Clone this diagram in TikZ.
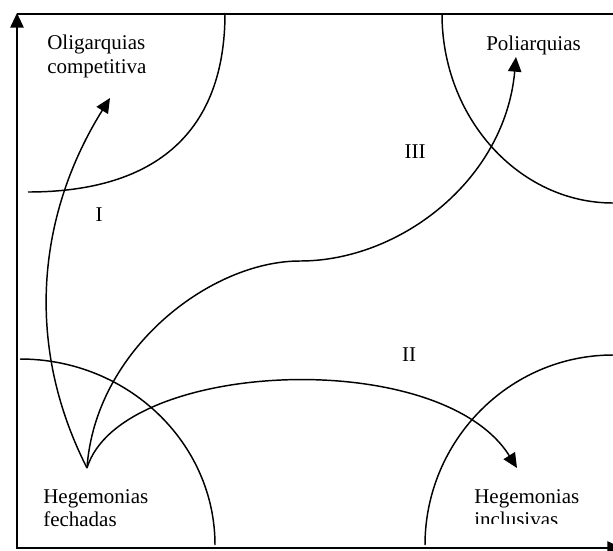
\documentclass[tikz,border=0pt]{standalone}
\usepackage{fontspec}
\setmainfont{Liberation Serif}
\usetikzlibrary{arrows.meta}

\begin{document}
\begin{tikzpicture}[x=0.75pt,y=-0.75pt,>={Triangle[length=11pt,width=10pt]},
  rotulo/.style={font=\fontsize{15.75}{17.6}\selectfont,inner sep=0pt,align=left,anchor=north west},
  zona/.style={font=\fontsize{15.75}{17.6}\selectfont,inner sep=0pt},
  arco/.style={line width=1.1pt},
  seta/.style={->,line width=1.1pt}]
  \useasboundingbox (0,0) rectangle (613,550);
  \clip (0,0) rectangle (613,550);
  % eixos
  \draw[->,line width=1.3pt] (17,549) -- (17,13);
  \draw[line width=1.3pt] (17,14) -- (613,14);
  \draw[->,line width=1.3pt] (17,548) -- (622,548);
  % arcos dos cantos
  \draw[arco] (225,13) .. controls (225,130) and (158,192) .. (28,192);
  \draw[arco] (442,14) .. controls (442,118) and (519,203) .. (613,203);
  \draw[arco] (20,359) .. controls (128,359) and (215,443) .. (215,545);
  \draw[arco] (425,545) .. controls (425,441) and (509,355) .. (613,355);
  % rotulos
  \node[rotulo] (oligarquias) at (47,35) {Oligarquias\\competitiva};
  \node[rotulo] (poliarquias) at (486,36) {Poliarquias};
  \node[rotulo] (fechadas) at (43,489) {Hegemonias\\fechadas};
  \begin{scope}
    \clip (470,480) rectangle (600,523.5);
    \node[rotulo] (inclusivas) at (474,489) {Hegemonias\\inclusivas};
  \end{scope}
  \node[zona] (zonaI) at (99,215) {I};
  \node[zona] (zonaII) at (409,355) {II};
  \node[zona] (zonaIII) at (415,152) {III};
  % caminhos
  \coordinate (hf) at (87,468);
  \coordinate (oc) at (110,98);
  \coordinate (meio) at (300,261);
  \coordinate (pol) at (516,57);
  \coordinate (hi) at (517,468);
  \draw[seta] (hf) .. controls (22,340) and (40,210) .. (oc);
  \draw[seta] (hf) .. controls (95,350) and (210,261) .. (meio)
    .. controls (400,261) and (505,180) .. (pol);
  \draw[seta] (hf) .. controls (120,360) and (440,345) .. (hi);
\end{tikzpicture}
\end{document}
